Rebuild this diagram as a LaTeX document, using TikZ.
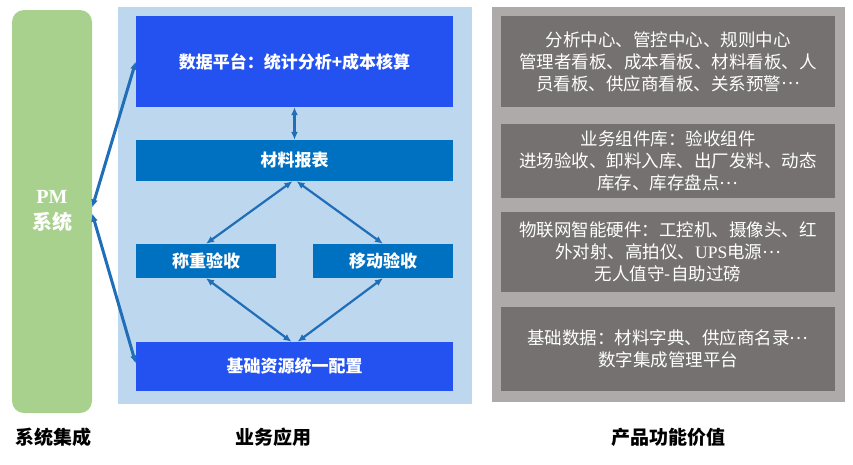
\documentclass[tikz,border=0pt]{standalone}
\usepackage{fontspec}
\setmainfont{Liberation Serif}
\newfontfamily\cjk{Noto Sans CJK SC}
\usetikzlibrary{arrows.meta}
\definecolor{pmGreen}{RGB}{169,209,142}
\definecolor{appPanel}{RGB}{189,215,238}
\definecolor{valPanel}{RGB}{174,170,170}
\definecolor{valBox}{RGB}{118,113,113}
\definecolor{brightBlue}{RGB}{35,82,240}
\definecolor{deepBlue}{RGB}{0,112,192}
\definecolor{linkBlue}{RGB}{31,110,183}
\newcommand\moreDots{\raisebox{.3em}{…}}

\begin{document}
\begin{tikzpicture}
[x=1pt,y=-1pt,%
  panelBox/.style={inner sep=0pt,minimum width=#1},%
  blueBox/.style={fill=#1,text=white,inner sep=0pt,font=\cjk\bfseries\fontsize{17}{20}\selectfont},%
  grayBox/.style={fill=valBox,text=white,inner sep=0pt,minimum width=334pt,align=center,font=\cjk\fontsize{17.5}{22}\selectfont},%
  thinLink/.style={{Latex[length=8pt,width=7pt]}-{Latex[length=8pt,width=7pt]},line width=2.2pt,color=linkBlue},%
  thickLink/.style={thinLink,line width=3pt},%
  caption/.style={font=\cjk\bfseries\fontsize{19}{22}\selectfont}]
\useasboundingbox (0,0) rectangle (853,464);
%% the three columns
\node[panelBox=354pt,minimum height=397pt,fill=appPanel] (app) at (295,205.5) {};
\node[panelBox=353pt,minimum height=395pt,fill=valPanel] (val) at (668.5,204.5) {};
\node[panelBox=80pt,minimum height=403pt,fill=pmGreen,rounded corners=12pt,
  text=white,align=center,font=\cjk\bfseries\fontsize{20}{26}\selectfont] (pm) at (52,211.5)
  {{\rmfamily PM}\\系统};
%% business application boxes
\node[blueBox=brightBlue,minimum width=317pt,minimum height=91pt] (plat) at (294.5,61.5) {数据平台：统计分析+成本核算};
\node[blueBox=deepBlue,minimum width=317pt,minimum height=41pt] (report) at (294.5,160.5) {材料报表};
\node[blueBox=deepBlue,minimum width=140pt,minimum height=34pt] (weigh) at (206,261) {称重验收};
\node[blueBox=deepBlue,minimum width=140pt,minimum height=34pt] (mobile) at (383,261) {移动验收};
\node[blueBox=brightBlue,minimum width=317pt,minimum height=49pt] (base) at (294.5,366.5) {基础资源统一配置};
%% product value boxes
\foreach \name/\yc/\h/\txt in {g1/61.5/91/{分析中心、管控中心、规则中心\\管理者看板、成本看板、材料看板、人\\员看板、供应商看板、关系预警\moreDots},
  g2/161/74/{业务组件库：验收组件\\进场验收、卸料入库、出厂发料、动态\\库存、库存盘点\moreDots},
  g3/252/80/{物联网智能硬件：工控机、摄像头、红\\外对射、高拍仪、{\rmfamily UPS}电源\moreDots\\无人值守-自助过磅},
  g4/349/84/{基础数据：材料字典、供应商名录\moreDots\\数字集成管理平台}}
{
  \node[grayBox,minimum height=\h pt] (\name) at (668,\yc) {\txt};
}
%% links
\draw[thickLink] ([yshift=4pt]pm.east) -- (plat.west);
\draw[thickLink] ([yshift=-2pt]pm.east) -- ([yshift=3pt]base.west);
\draw[thinLink] (plat.south) -- (report.north);
\draw[thinLink] ([xshift=-2pt]report.south) -- (weigh.north);
\draw[thinLink] ([xshift=2pt]report.south) -- (mobile.north);
\draw[thinLink] (weigh.south) -- ([xshift=-3pt]base.north);
\draw[thinLink] (mobile.south) -- ([xshift=3pt]base.north);
%% column captions
\node[caption] (capPm) at (53,437) {系统集成};
\node[caption] (capApp) at (273,437) {业务应用};
\node[caption] (capVal) at (668,437) {产品功能价值};
\end{tikzpicture}
\end{document}
